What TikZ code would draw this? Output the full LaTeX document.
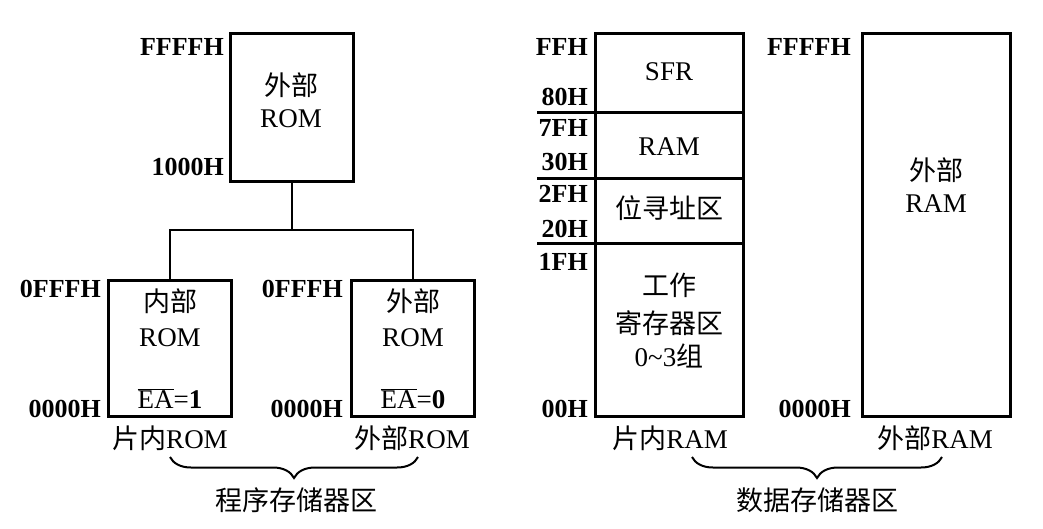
\documentclass[tikz,border=0pt]{standalone}
\usepackage{fontspec}
\setmainfont{Liberation Serif}
\newfontfamily\cjk{Noto Sans CJK SC}
\usetikzlibrary{decorations.pathreplacing}

\tikzset{
  memblock/.style={draw, line width=3pt, inner sep=0pt},
  addr/.style={anchor=base east, inner sep=0pt, font=\fontsize{26}{30}\selectfont\bfseries},
  txt/.style={anchor=base, inner sep=0pt, font=\fontsize{27}{31}\selectfont},
  wire/.style={line width=2pt},
  bracket/.style={line width=2pt, decorate, decoration={brace, amplitude=21pt, mirror}},
}

\begin{document}
\begin{tikzpicture}[x=1pt, y=-1pt]
\useasboundingbox (0,0) rectangle (1043,528);

% ---------- program memory ----------
\node[memblock, minimum width=123pt, minimum height=148pt] (xrom) at (291.5,107.5) {};
\node[txt] (xromA) at (291,95) {\cjk 外部};
\node[txt] (xromB) at (291,127) {ROM};
\node[addr] (xromHi) at (224,55) {FFFFH};
\node[addr] (xromLo) at (224,175) {1000H};

\node[memblock, minimum width=123pt, minimum height=136pt] (irom) at (170,348) {};
\node[txt] (iromA) at (170,311) {\cjk 内部};
\node[txt] (iromB) at (170,346) {ROM};
\node[txt] (iromC) at (170,408) {$\overline{\mbox{EA}}$=\textbf{1}};
\node[addr] (iromHi) at (101,297) {0FFFH};
\node[addr] (iromLo) at (101,417) {0000H};

\node[memblock, minimum width=123pt, minimum height=136pt] (erom) at (413,348) {};
\node[txt] (eromA) at (413,311) {\cjk 外部};
\node[txt] (eromB) at (413,346) {ROM};
\node[txt] (eromC) at (413,408) {$\overline{\mbox{EA}}$=\textbf{0}};
\node[addr] (eromHi) at (343,297) {0FFFH};
\node[addr] (eromLo) at (343,417) {0000H};

\coordinate (jn) at (291.5,230);
\draw[wire] (xrom.south) -- (jn);
\draw[wire] (irom.north) |- (jn) -| (erom.north);

\node[txt] (iromName) at (170,448) {{\cjk 片内}ROM};
\node[txt] (eromName) at (412,448) {{\cjk 外部}ROM};
\coordinate (pbL) at (170,457);
\coordinate (pbR) at (418,457);
\draw[bracket] (pbL) -- (pbR);
\node[txt] (progName) at (296,510) {\cjk 程序存储器区};

% ---------- data memory ----------
\node[memblock, minimum width=148pt, minimum height=383pt] (iram) at (669,224.5) {};
\coordinate (d1) at (537,112);
\coordinate (d2) at (537,178);
\coordinate (d3) at (537,243);
\draw[line width=3pt] (d1) -- (d1 -| iram.east);
\draw[line width=3pt] (d2) -- (d2 -| iram.east);
\draw[line width=3pt] (d3) -- (d3 -| iram.east);

\node[txt] (sfr) at (669,80) {SFR};
\node[txt] (ram) at (669,155) {RAM};
\node[txt] (bit) at (669,218) {\cjk 位寻址区};
\node[txt] (wrA) at (669,295) {\cjk 工作};
\node[txt] (wrB) at (669,333) {\cjk 寄存器区};
\node[txt] (wrC) at (669,366) {0\textasciitilde3{\cjk 组}};

\node[addr] (a1) at (588,55) {FFH};
\node[addr] (a2) at (588,105) {80H};
\node[addr] (a3) at (588,136) {7FH};
\node[addr] (a4) at (588,170) {30H};
\node[addr] (a5) at (588,202) {2FH};
\node[addr] (a6) at (588,237) {20H};
\node[addr] (a7) at (588,270) {1FH};
\node[addr] (a8) at (588,417) {00H};

\node[memblock, minimum width=148pt, minimum height=383pt] (xram) at (936,224.5) {};
\node[txt] (xramA) at (936,180) {\cjk 外部};
\node[txt] (xramB) at (936,212) {RAM};
\node[addr] (xramHi) at (851,55) {FFFFH};
\node[addr] (xramLo) at (851,417) {0000H};

\node[txt] (iramName) at (670,448) {{\cjk 片内}RAM};
\node[txt] (xramName) at (935,448) {{\cjk 外部}RAM};
\coordinate (dbL) at (692,457);
\coordinate (dbR) at (942,457);
\draw[bracket] (dbL) -- (dbR);
\node[txt] (dataName) at (817,510) {\cjk 数据存储器区};
\end{tikzpicture}
\end{document}
